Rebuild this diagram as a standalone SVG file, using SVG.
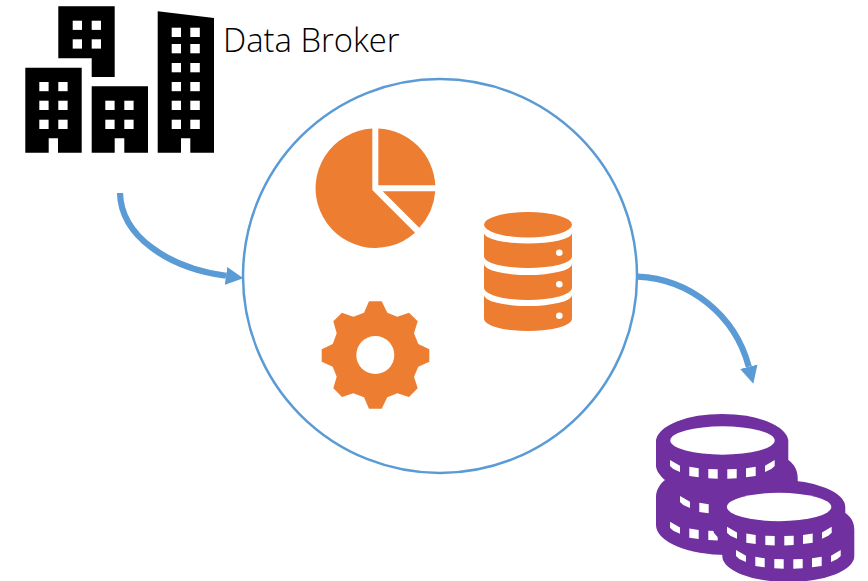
<svg xmlns="http://www.w3.org/2000/svg" xmlns:xlink="http://www.w3.org/1999/xlink" width="868" height="581" viewBox="0 0 868 581">
<style>
.k{fill:#000}.w{fill:#fff}.o{fill:#ED7D31}.p{fill:#7030A0;fill-rule:evenodd}
.c{fill:none;stroke:#5B9BD5;stroke-width:6.200;marker-end:url(#ah)}
.t{font-family:"Open Sans","Noto Sans",sans-serif;font-weight:300;font-size:32.800px;fill:#000}
</style>
<defs>
<marker id="ah" markerUnits="userSpaceOnUse" markerWidth="18" markerHeight="20" refX="0" refY="9.5" orient="auto"><path d="M0 .5L17.5 9.5L0 18.5Z" fill="#5B9BD5"/></marker>
<g id="notches" fill="#fff">
<path d="M670 460L680 465.700V472L673.300 469L670 466Z"/>
<path d="M689.300 466.700L698.700 468.300V477.300L689.300 476Z"/>
<path d="M708.300 469L717.700 469.300V478.700L708.300 478.300Z"/>
<path d="M727.300 469.300L736.700 469V478.300L727.300 478.700Z"/>
<path d="M746 468.300L755.700 466.700V476L746 477.300Z"/>
<path d="M765 465.700L774.700 460V466L771.300 469L765 472Z"/>
</g>
</defs>
<rect width="868" height="581" fill="#fff"/>
<g id="platform"><circle cx="440" cy="276" r="197" fill="none" stroke="#5B9BD5" stroke-width="2.5"/></g>
<g id="connectors">
<path class="c" d="M120 193C121 236 168 268 226 275.800"/>
<path class="c" d="M637.500 276.700C690 279 735 315 748.800 366.800"/>
</g>
<g id="broker">
<path class="k" d="M58.300 6.300H114.700V77H91.700V58.300H58.300Z"/>
<path class="k" d="M25.300 67.700H81.700V152.700H58V138.300H48.700V152.700H25.300Z"/>
<path class="k" d="M91.700 86.300H148V152.700H124.300V138.300H114.700V152.700H91.700Z"/>
<path class="k" d="M157.700 11.300L214 18V152.700H190.300V138.300H181V152.700H157.700Z"/>
<g class="w">
<rect x="72.700" y="20.700" width="9.300" height="9.200"/><rect x="91.700" y="20.700" width="9.300" height="9.200"/>
<rect x="72.700" y="39.300" width="9.300" height="9.300"/><rect x="91.700" y="39.300" width="9.300" height="9.300"/>
<rect x="39.300" y="82" width="9.300" height="9.200"/><rect x="58.300" y="82" width="9.300" height="9.200"/>
<rect x="39.300" y="100.700" width="9.300" height="9.300"/><rect x="58.300" y="100.700" width="9.300" height="9.300"/>
<rect x="39.300" y="119.700" width="9.300" height="9.300"/><rect x="58.300" y="119.700" width="9.300" height="9.300"/>
<rect x="105.300" y="100.700" width="9.300" height="9.300"/><rect x="124.300" y="100.700" width="9.300" height="9.300"/>
<rect x="105.300" y="119.700" width="9.300" height="9.300"/><rect x="124.300" y="119.700" width="9.300" height="9.300"/>
<rect x="171.700" y="27.700" width="9.300" height="9.300"/><rect x="190.300" y="27.700" width="9.500" height="9.300"/>
<rect x="171.700" y="44" width="9.300" height="9.300"/><rect x="190.300" y="44" width="9.500" height="9.300"/>
<rect x="171.700" y="63" width="9.300" height="9.300"/><rect x="190.300" y="63" width="9.500" height="9.300"/>
<rect x="171.700" y="82" width="9.300" height="9.200"/><rect x="190.300" y="82" width="9.500" height="9.200"/>
<rect x="171.700" y="100.700" width="9.300" height="9.300"/><rect x="190.300" y="100.700" width="9.500" height="9.300"/>
<rect x="171.700" y="119.700" width="9.300" height="9.300"/><rect x="190.300" y="119.700" width="9.500" height="9.300"/>
</g>
<text class="t" x="223" y="51.500">Data Broker</text>
</g>
<g id="pie">
<path class="o" d="M378.300 128.400A60 60 0 0 1 435.300 185.300H378.300Z"/>
<path class="o" d="M382.700 191.300H435.300A60 60 0 0 1 419.300 227.700Z"/>
<path class="o" d="M372.300 128.600V190L415 232.800A59.700 59.700 0 1 1 372.300 128.600Z"/>
</g>
<g id="database">
<ellipse class="o" cx="528" cy="224.700" rx="44" ry="12.700"/>
<path class="o" d="M484 233A44 10.500 0 0 0 572 233V256.500A44 11.500 0 0 1 484 256.500Z"/>
<path class="o" d="M484 264A44 11 0 0 0 572 264V288A44 12 0 0 1 484 288Z"/>
<path class="o" d="M484 295A44 11 0 0 0 572 295V319A44 12 0 0 1 484 319Z"/>
<circle class="w" cx="559.300" cy="252.700" r="3.300"/><circle class="w" cx="559.300" cy="284.300" r="3.300"/><circle class="w" cx="559.300" cy="315.700" r="3.300"/>
</g>
<g id="gear">
<path class="o" d="M369 301.300H381.700L387.300 312.700L397.300 316.700L409 312.700L417.700 321.300L414 333.300L418.300 344L429.300 349.300V361.700L418.300 366.700L414 376.700L417.700 388.300L409 397L397.300 393.300L387.300 397.300L381.700 408.700H369L364 397.300L353.300 393.300L342 397L333.300 388.300L336.700 376.700L332.700 366.700L321.700 361.700V349.300L332.700 344L336.700 333.300L333.300 321.300L342 312.700L353.300 316.700L364 312.700Z"/>
<circle class="w" cx="375.300" cy="355" r="19"/>
</g>
<g id="coins">
<path class="p" d="M656 440A66.300 28 0 0 1 788.300 440V460C794 464 797.700 470 797.700 478V525A66.300 28 0 0 1 656 525V497C656 490 660 484 665 480C660 476 656 470 656 466ZM670.300 440.500A52.200 14.200 0 0 0 774.700 440.500A52.200 14.200 0 0 0 670.300 440.500Z"/>
<use href="#notches"/>
<use href="#notches" transform="translate(10 36)"/>
<use href="#notches" transform="translate(0 61.700)"/>
<path class="p" d="M712.700 507A66.300 27 0 0 1 845.300 507V513C851 517 854.300 522 854.300 530V556A66 26 0 0 1 722.300 556V545C722 540 718 538 714 533C713 530 712.700 528 712.700 525Z"/>
<ellipse class="w" cx="779.100" cy="507" rx="52.200" ry="14.200"/>
<use href="#notches" transform="translate(57 66.700)"/>
<use href="#notches" transform="translate(66 90)"/>
</g>
</svg>
